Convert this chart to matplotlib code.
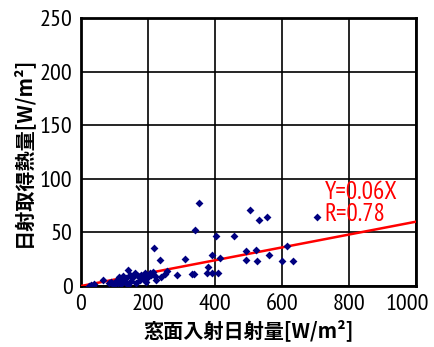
import matplotlib.pyplot as plt
from matplotlib.transforms import ScaledTranslation

plt.rcParams["font.family"] = ["Noto Sans CJK JP", "DejaVu Sans"]
NARROW = ["PT Sans Narrow", "Archivo Narrow", "Roboto Condensed",
          "Noto Sans CJK JP", "DejaVu Sans"]

# 窓面入射日射量 [W/m2] and 日射取得熱量 [W/m2] per sample
X_INCIDENT = [25, 30, 35, 40, 65, 85, 90, 95, 100, 105, 110, 112, 118, 120,
              125, 130, 135, 139, 140, 145, 150, 155, 160, 165, 170, 175, 180,
              186, 190, 195, 200, 206, 210, 215, 218, 222, 225, 236, 240, 250,
              257, 286, 310, 331, 338, 340, 352, 377, 380, 392, 392, 404, 408,
              414, 456, 493, 493, 506, 521, 524, 530, 554, 561, 599, 616, 632,
              706]
Y_GAIN = [0, 1, 0, 2, 6, 3, 4, 2, 1, 5, 3, 8, 6, 2,
          9, 4, 7, 15, 1, 10, 5, 8, 12, 3, 9, 6, 10,
          7, 12, 4, 8, 12, 10, 13, 35, 9, 6, 24, 8, 11,
          14, 10, 25, 11, 11, 52, 77, 12, 18, 12, 29, 47, 12,
          26, 47, 33, 24, 71, 34, 23, 62, 64, 29, 23, 37, 23,
          64]

FIT_SLOPE = 0.06
FIT_R = 0.78
FIT_X = [0, 1000]

X_TICKS = [0, 200, 400, 600, 800, 1000]
Y_TICKS = [0, 50, 100, 150, 200, 250]

fig = plt.figure(figsize=(4.34, 3.47), dpi=100)
ax = fig.add_axes([0.1866, 0.1758, 0.7719, 0.7723])

ax.plot(FIT_X, [FIT_SLOPE * x for x in FIT_X], color="#ff0000", lw=1.8, zorder=3)
ax.scatter(X_INCIDENT, Y_GAIN, marker="D", s=16, color="#000080",
           linewidths=0, zorder=4)

ax.text(728, 81, f"Y={FIT_SLOPE:.2f}X", color="#ff0000", fontsize=18,
        family=NARROW, ha="left", va="baseline", zorder=5)
ax.text(728, 61, f"R={FIT_R:.2f}", color="#ff0000", fontsize=18,
        family=NARROW, ha="left", va="baseline", zorder=5)

ax.set_xlim(0, 1000)
ax.set_ylim(0, 250)
ax.set_xticks(X_TICKS)
ax.set_yticks(Y_TICKS)
ax.tick_params(length=0, pad=6, labelsize=17.5)
for lbl in ax.get_xticklabels() + ax.get_yticklabels():
    lbl.set_family(NARROW)
# keep the last x label inside the figure
last = ax.get_xticklabels()[-1]
last.set_transform(last.get_transform()
                   + ScaledTranslation(-0.09, 0, fig.dpi_scale_trans))
ax.grid(True, color="black", lw=1.2)
ax.set_axisbelow(True)
for sp in ax.spines.values():
    sp.set_linewidth(2)

ax.set_xlabel("窓面入射日射量[W/m²]", fontsize=14.5, fontweight="bold", labelpad=3)
ax.set_ylabel("日射取得熱量[W/m²]", fontsize=14.5, fontweight="bold", labelpad=5)

fig.savefig("out.png", dpi=100)
